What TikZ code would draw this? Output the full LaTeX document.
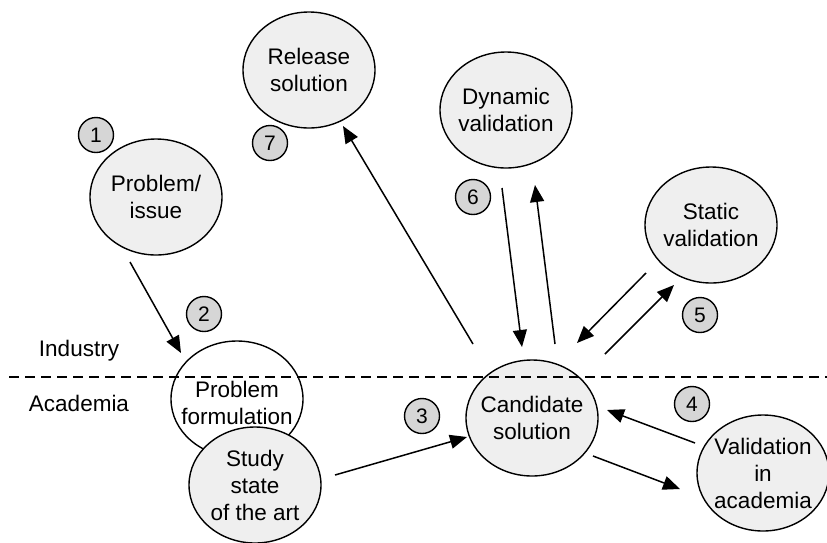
\documentclass[tikz,border=0pt]{standalone}
\usepackage{fontspec}
\setmainfont{Liberation Sans}
\usetikzlibrary{shapes.geometric,arrows.meta}
\definecolor{bubfill}{HTML}{EFEFEF}
\definecolor{numfill}{HTML}{D6D6D6}
\begin{document}
\begin{tikzpicture}[x=1pt,y=-1pt,
  txt/.style={font=\fontsize{22.5pt}{27pt}\selectfont, align=center, inner sep=0pt},
  bub/.style={ellipse, draw, line width=1.4pt, fill=bubfill,
    minimum width=132pt, minimum height=116pt, inner sep=0pt},
  numdot/.style={circle, draw, line width=1.4pt, fill=numfill,
    minimum size=35pt, inner sep=0pt, font=\fontsize{21pt}{25pt}\selectfont},
  flow/.style={line width=1.5pt, -{Triangle[length=17pt,width=14pt]}},
  side/.style={txt}
]
\useasboundingbox (0,0) rectangle (827,542);

% activity bubbles
\node[bub, label={[txt]center:Release\\solution}] (rel) at (309,70) {};
\node[bub, label={[txt]center:Dynamic\\validation}] (dyn) at (506,110) {};
\node[bub, label={[txt]center:Static\\validation}] (stat) at (711,225) {};
\node[bub, label={[txt]center:Problem/\\issue}] (prob) at (156,197) {};
\node[bub, fill=white, label={[txt, yshift=-4pt]center:Problem\\formulation}] (form) at (237,399) {};
\node[bub, label={[txt]center:Study\\state\\of the art}] (study) at (255,485) {};
\node[bub, label={[txt]center:Candidate\\solution}] (cand) at (532,418) {};
\node[bub, label={[txt]center:Validation\\in\\academia}] (acad) at (763,473) {};

% step numbers
\node[numdot] (n1) at (96,135) {1};
\node[numdot] (n2) at (204,314) {2};
\node[numdot] (n3) at (422,416) {3};
\node[numdot] (n4) at (692,404) {4};
\node[numdot] (n5) at (700,315) {5};
\node[numdot] (n6) at (473,197) {6};
\node[numdot] (n7) at (270,143) {7};

% boundary between industry and academia
\coordinate (bl) at (9,377);
\coordinate (br) at (827,377);
\draw[line width=1.4pt, dash pattern=on 10pt off 6pt] (bl) -- (br);
\node[side] (ind) at (79,351) {Industry};
\node[side] (aca) at (79,403) {Academia};

% connector end points
\coordinate (p1s) at (130,262); \coordinate (p1e) at (181,353);
\coordinate (p2s) at (335,475); \coordinate (p2e) at (467,437);
\coordinate (p3s) at (593,456); \coordinate (p3e) at (680,489);
\coordinate (p4s) at (695,443); \coordinate (p4e) at (607,410);
\coordinate (p5s) at (502,188); \coordinate (p5e) at (522,347);
\coordinate (p6s) at (555,344); \coordinate (p6e) at (535,185);
\coordinate (p7s) at (646,273); \coordinate (p7e) at (577,343);
\coordinate (p8s) at (605,354); \coordinate (p8e) at (674,285);
\coordinate (p9s) at (473,344); \coordinate (p9e) at (343,126);

\draw[flow] (p1s) -- (p1e);
\draw[flow] (p2s) -- (p2e);
\draw[flow] (p3s) -- (p3e);
\draw[flow] (p4s) -- (p4e);
\draw[flow] (p5s) -- (p5e);
\draw[flow] (p6s) -- (p6e);
\draw[flow] (p7s) -- (p7e);
\draw[flow] (p8s) -- (p8e);
\draw[flow] (p9s) -- (p9e);
\end{tikzpicture}
\end{document}
